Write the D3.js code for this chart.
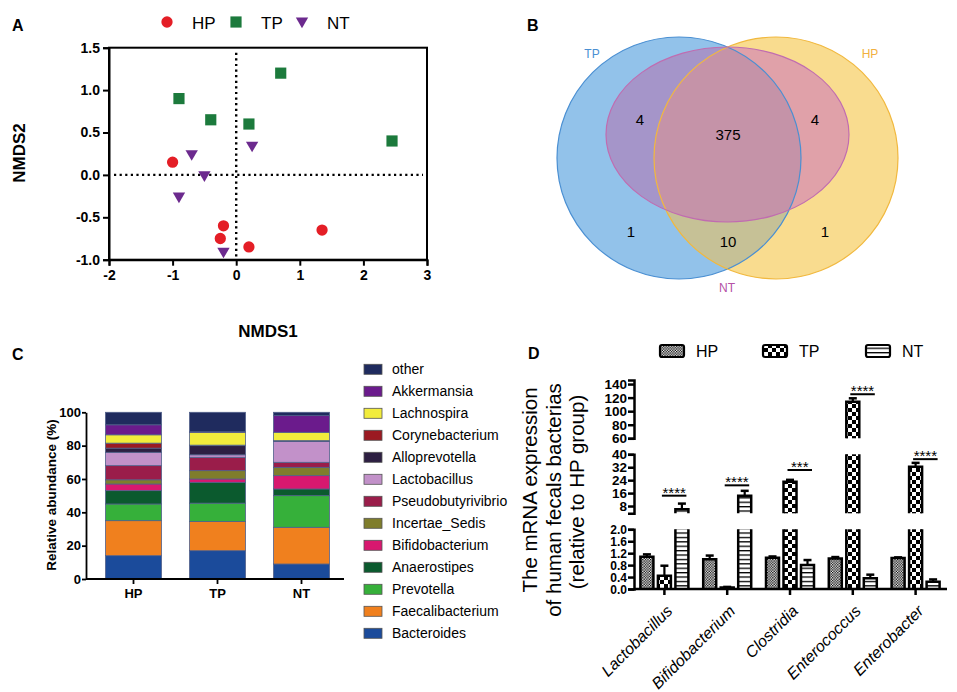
<!DOCTYPE html>
<html>
<head>
<meta charset="utf-8">
<script src="https://cdn.jsdelivr.net/npm/d3@7.9.0/dist/d3.min.js"></script>
<style>
  body { margin: 0; background: #fff; }
  svg { font-family: "Liberation Sans", Arial, sans-serif; }
</style>
</head>
<body>
<svg id="fig" width="957" height="692"></svg>
<script>
// ---------- A: NMDS scores ----------
const nmdsGroups = ['HP', 'TP', 'NT'];
const nmdsHP = [[-1.0, 0.15], [-0.2, -0.6], [-0.25, -0.75], [0.2, -0.85], [1.35, -0.65]];
const nmdsTP = [[-0.9, 0.9], [-0.4, 0.65], [0.7, 1.2], [0.2, 0.6], [2.45, 0.4]];
const nmdsNT = [[-0.7, 0.25], [-0.5, 0.0], [-0.9, -0.25], [0.25, 0.35], [-0.2, -0.9]];
const nmdsXTicks = [-2, -1, 0, 1, 2, 3];
const nmdsYTicks = [-1, -0.5, 0, 0.5, 1, 1.5];

// ---------- B: Venn counts ----------
const vennSets = ['TP', 'HP', 'NT'];
const vennRegions = ['TP∩NT', 'TP∩HP∩NT', 'HP∩NT', 'TP', 'TP∩HP', 'HP'];
const vennCounts = [4, 375, 4, 1, 10, 1];

// ---------- C: relative abundance (%) ----------
const abundGroups = ['HP', 'TP', 'NT'];
const taxa = ['Bacteroides', 'Faecalibacterium', 'Prevotella', 'Anaerostipes', 'Bifidobacterium',
  'Incertae_Sedis', 'Pseudobutyrivibrio', 'Lactobacillus', 'Alloprevotella', 'Corynebacterium',
  'Lachnospira', 'Akkermansia', 'other'];
const abundHP = [14, 21, 10, 8, 4, 2.5, 8.5, 8, 2.5, 3, 5, 6, 7.5];
const abundTP = [17, 17.5, 11, 12.5, 2, 5, 8, 1.5, 5.5, 0.3, 7.7, 0.3, 11.7];
const abundNT = [9, 22, 19, 4, 8, 5, 3, 12.5, 0.3, 0.2, 5, 10, 2];
const taxaColors = ['#1b4b9b', '#f0801e', '#36b03a', '#0b5a2e', '#d8186f', '#7f7d2c',
  '#9a1d4a', '#c291c9', '#2d1f42', '#9b1a22', '#f2ec3c', '#6b1b8c', '#1f2b5e'];
const abundTicks = [0, 20, 40, 60, 80, 100];

// ---------- D: qPCR relative expression ----------
const qpcrTaxa = ['Lactobacillus', 'Bifidobacterium', 'Clostridia', 'Enterococcus', 'Enterobacter'];
const qpcrGroups = ['HP', 'TP', 'NT'];
const qpcrHP = [1.08, 1.0, 1.05, 1.02, 1.04];
const qpcrHPerr = [0.08, 0.12, 0.04, 0.05, 0.02];
const qpcrTP = [0.44, 0.05, 23, 114, 32.3];
const qpcrTPerr = [0.34, 0.02, 1.2, 5, 2.4];
const qpcrNT = [6, 14.4, 0.8, 0.36, 0.24];
const qpcrNTerr = [3.5, 3, 0.17, 0.12, 0.08];
const sigLabels = ['****', '****', '***', '****', '****'];
const sigLevels = [14.4, 20.8, 30.3, 125, 37];
const qpcrTicks = [[0, 0.4, 0.8, 1.2, 1.6, 2.0], [8, 16, 24, 32, 40], [60, 80, 100, 120, 140]];

const svg = d3.select('#fig');
const defs = svg.append('defs');

function panelLabel(t, x, y) {
  svg.append('text').attr('x', x).attr('y', y).attr('font-size', 16)
    .attr('font-weight', 'bold').text(t);
}
function styleAxis(g, size, sw) {
  g.selectAll('path, line').attr('stroke', '#000').attr('stroke-width', sw);
  g.selectAll('text').attr('font-size', size).attr('font-weight', 'bold')
    .attr('fill', '#000').attr('font-family', '"Liberation Sans", Arial, sans-serif');
}

// ================= A =================
panelLabel('A', 12, 31);
const xA = d3.scaleLinear().domain([-2, 3]).range([109, 427]);
const yA = d3.scaleLinear().domain([-1, 1.5]).range([259.7, 47.7]);
const gA = svg.append('g');

gA.append('line').attr('x1', xA(-2) + 5).attr('x2', xA(3) - 4).attr('y1', yA(0)).attr('y2', yA(0))
  .attr('stroke', '#000').attr('stroke-width', 2.4).attr('stroke-dasharray', '2.2,3.4');
gA.append('line').attr('x1', xA(0)).attr('x2', xA(0)).attr('y1', yA(1.5) + 5).attr('y2', yA(-1))
  .attr('stroke', '#000').attr('stroke-width', 2.4).attr('stroke-dasharray', '2.2,3.4');

gA.append('rect').attr('x', xA(-2)).attr('y', yA(1.5))
  .attr('width', xA(3) - xA(-2)).attr('height', yA(-1) - yA(1.5))
  .attr('fill', 'none').attr('stroke', '#000').attr('stroke-width', 2);

const axAx = gA.append('g').attr('transform', `translate(0,${yA(-1)})`)
  .call(d3.axisBottom(xA).tickValues(nmdsXTicks).tickSize(6).tickPadding(4)
    .tickFormat(d => String(d)));
styleAxis(axAx, 14, 2);
const axAy = gA.append('g').attr('transform', `translate(${xA(-2)},0)`)
  .call(d3.axisLeft(yA).tickValues(nmdsYTicks).tickSize(6).tickPadding(3)
    .tickFormat(d => d.toFixed(1)));
styleAxis(axAy, 14, 2);

const nmdsStyle = {
  HP: { type: d3.symbolCircle, size: 100, color: '#e41e26', rot: 0 },
  TP: { type: d3.symbolSquare, size: 125, color: '#1c7a3c', rot: 0 },
  NT: { type: d3.symbolTriangle, size: 66, color: '#6c2a8e', rot: 180 }
};
const nmdsData = { HP: nmdsHP, TP: nmdsTP, NT: nmdsNT };
nmdsGroups.forEach(gname => {
  const s = nmdsStyle[gname];
  gA.selectAll(null).data(nmdsData[gname]).join('path')
    .attr('d', d3.symbol().type(s.type).size(s.size))
    .attr('transform', d => `translate(${xA(d[0])},${yA(d[1])}) rotate(${s.rot})`)
    .attr('fill', s.color);
});

// legend A
const legAx = [167, 236, 302];
nmdsGroups.forEach((gname, i) => {
  const s = nmdsStyle[gname];
  svg.append('path').attr('d', d3.symbol().type(s.type).size(s.size))
    .attr('transform', `translate(${legAx[i]},${i === 2 ? 21 : 22}) rotate(${s.rot})`)
    .attr('fill', s.color);
  svg.append('text').attr('x', legAx[i] + 25).attr('y', 28.5).attr('font-size', 17).text(gname);
});

svg.append('text').attr('transform', `translate(25,153) rotate(-90)`)
  .attr('text-anchor', 'middle').attr('font-size', 17).attr('font-weight', 'bold').text('NMDS2');
svg.append('text').attr('x', (xA(-2) + xA(3)) / 2).attr('y', 337)
  .attr('text-anchor', 'middle').attr('font-size', 17).attr('font-weight', 'bold').text('NMDS1');

// ================= B =================
panelLabel('B', 527, 31);
const vennShapes = {
  TP: { cx: 679, cy: 158, rx: 122, ry: 121 },
  HP: { cx: 776, cy: 158, rx: 122, ry: 121 },
  NT: { cx: 727.5, cy: 134.5, rx: 121.5, ry: 87.5 }
};
const gB = svg.append('g');
vennSets.forEach(k => {
  const s = vennShapes[k];
  defs.append('clipPath').attr('id', 'clip' + k).append('ellipse')
    .attr('cx', s.cx).attr('cy', s.cy).attr('rx', s.rx).attr('ry', s.ry);
});
function vennEllipse(parent, k) {
  const s = vennShapes[k];
  return parent.append('ellipse').attr('cx', s.cx).attr('cy', s.cy).attr('rx', s.rx).attr('ry', s.ry);
}
vennEllipse(gB, 'TP').attr('fill', '#92c2ea');
vennEllipse(gB, 'HP').attr('fill', '#f9dc8f');
vennEllipse(gB.append('g').attr('clip-path', 'url(#clipTP)'), 'HP').attr('fill', '#c6c196');
vennEllipse(gB.append('g').attr('clip-path', 'url(#clipTP)'), 'NT').attr('fill', '#a595c9');
vennEllipse(gB.append('g').attr('clip-path', 'url(#clipHP)'), 'NT').attr('fill', '#e0a1a9');
vennEllipse(gB.append('g').attr('clip-path', 'url(#clipTP)').append('g').attr('clip-path', 'url(#clipHP)'), 'NT')
  .attr('fill', '#c593a8');
vennEllipse(gB, 'TP').attr('fill', 'none').attr('stroke', '#4a8fd2').attr('stroke-width', 1.2);
vennEllipse(gB, 'HP').attr('fill', 'none').attr('stroke', '#f1b83e').attr('stroke-width', 1.2);
vennEllipse(gB, 'NT').attr('fill', 'none').attr('stroke', '#c06cb0').attr('stroke-width', 1.2);

const vennTextPos = [[640, 125], [728, 140], [815, 125], [631, 237], [728, 247], [825, 237]];
vennCounts.forEach((c, i) => {
  gB.append('text').attr('x', vennTextPos[i][0]).attr('y', vennTextPos[i][1])
    .attr('text-anchor', 'middle').attr('font-size', 15).text(c);
});
const vennLabelPos = { TP: [592, 58, '#4a8fd2'], HP: [870, 58, '#f1b040'], NT: [727, 292, '#b552a6'] };
vennSets.forEach(k => {
  const p = vennLabelPos[k];
  gB.append('text').attr('x', p[0]).attr('y', p[1]).attr('text-anchor', 'middle')
    .attr('font-size', 12).attr('fill', p[2]).text(k);
});

// ================= C =================
panelLabel('C', 12, 360);
const abundRows = abundGroups.map((g, gi) => {
  const row = { group: g };
  const src = [abundHP, abundTP, abundNT][gi];
  taxa.forEach((t, ti) => { row[t] = src[ti]; });
  return row;
});
const stackC = d3.stack().keys(taxa)(abundRows);
const xC = d3.scaleBand().domain(abundGroups).range([91.5, 343.5]).paddingInner(1 / 3).paddingOuter(1 / 6);
const yC = d3.scaleLinear().domain([0, 100]).range([579, 412.3]);
const colorC = d3.scaleOrdinal().domain(taxa).range(taxaColors);
const gC = svg.append('g');

gC.selectAll('g.layer').data(stackC).join('g').attr('class', 'layer')
  .attr('fill', d => colorC(d.key))
  .selectAll('rect').data(d => d).join('rect')
  .attr('x', d => xC(d.data.group)).attr('width', xC.bandwidth())
  .attr('y', d => yC(d[1])).attr('height', d => yC(d[0]) - yC(d[1]))
  .attr('stroke', '#51608a').attr('stroke-width', 0.8);

const axCy = gC.append('g').attr('transform', 'translate(86,0)')
  .call(d3.axisLeft(yC).tickValues(abundTicks).tickSize(4).tickPadding(1).tickSizeOuter(0));
styleAxis(axCy, 13, 1.8);
const axCx = gC.append('g').attr('transform', `translate(0,${yC(0)})`)
  .call(d3.axisBottom(xC).tickSize(5).tickPadding(5).tickSizeOuter(0));
axCx.select('.domain').attr('d', `M86,0H344`);
styleAxis(axCx, 13, 1.8);

svg.append('text').attr('transform', 'translate(56,495) rotate(-90)').attr('text-anchor', 'middle')
  .attr('font-size', 13.5).attr('font-weight', 'bold').text('Relative abundance (%)');

const legC = gC.append('g');
taxa.slice().reverse().forEach((t, i) => {
  const cy = 369.3 + i * 22;
  legC.append('rect').attr('x', 364).attr('y', cy - 5).attr('width', 18).attr('height', 10)
    .attr('fill', colorC(t)).attr('stroke', '#555').attr('stroke-width', 0.8);
  legC.append('text').attr('x', 392).attr('y', cy + 5).attr('font-size', 14).text(t);
});

// ================= D =================
panelLabel('D', 528, 359);
const gD = svg.append('g');

// fill patterns
const patHP = defs.append('pattern').attr('id', 'patHP').attr('patternUnits', 'userSpaceOnUse')
  .attr('width', 2.6).attr('height', 2.6);
patHP.append('rect').attr('width', 2.6).attr('height', 2.6).attr('fill', '#fff');
patHP.append('rect').attr('width', 1.3).attr('height', 1.3).attr('fill', '#000');
patHP.append('rect').attr('x', 1.3).attr('y', 1.3).attr('width', 1.3).attr('height', 1.3).attr('fill', '#000');
const patTP = defs.append('pattern').attr('id', 'patTP').attr('patternUnits', 'userSpaceOnUse')
  .attr('width', 8).attr('height', 8);
patTP.append('rect').attr('width', 8).attr('height', 8).attr('fill', '#fff');
patTP.append('rect').attr('width', 4).attr('height', 4).attr('fill', '#000');
patTP.append('rect').attr('x', 4).attr('y', 4).attr('width', 4).attr('height', 4).attr('fill', '#000');
const patNT = defs.append('pattern').attr('id', 'patNT').attr('patternUnits', 'userSpaceOnUse')
  .attr('width', 4).attr('height', 4.4);
patNT.append('rect').attr('width', 4).attr('height', 4.4).attr('fill', '#fff');
patNT.append('rect').attr('y', 0).attr('width', 4).attr('height', 1.3).attr('fill', '#000');
const patFill = { HP: 'url(#patHP)', TP: 'url(#patTP)', NT: 'url(#patNT)' };

const xD = d3.scaleBand().domain(qpcrTaxa).range([633, 947]);
const xSub = d3.scalePoint().domain(qpcrGroups).range([-17.5, 17.5]);
const barW = 13;
const segScales = [
  d3.scaleLinear().domain([0, 2]).range([589, 529.3]),
  d3.scaleLinear().domain([3.5, 40]).range([513.3, 454.3]),
  d3.scaleLinear().domain([60, 146]).range([438.3, 380])
];
function segOf(v) { return v <= 2.5 ? 0 : (v <= 50 ? 1 : 2); }
const axisX = 634;

segScales.forEach((sc, si) => {
  const ax = gD.append('g').attr('transform', `translate(${axisX},0)`)
    .call(d3.axisLeft(sc).tickValues(qpcrTicks[si]).tickSize(6).tickPadding(1).tickSizeOuter(6)
      .tickFormat(si === 0 ? (d => d.toFixed(1)) : (d => String(d))));
  styleAxis(ax, si === 0 ? 12 : 13.5, 2.5);
  ax.selectAll('text').attr('dy', '0.34em');
});

const qpcrVals = { HP: qpcrHP, TP: qpcrTP, NT: qpcrNT };
const qpcrErrs = { HP: qpcrHPerr, TP: qpcrTPerr, NT: qpcrNTerr };
const bars = [];
qpcrTaxa.forEach((t, ti) => qpcrGroups.forEach(g => {
  bars.push({ taxon: t, group: g, v: qpcrVals[g][ti], e: qpcrErrs[g][ti],
    cx: xD(t) + xD.bandwidth() / 2 + xSub(g) });
}));

bars.forEach(b => {
  segScales.forEach((sc, si) => {
    const [d0, d1] = sc.domain();
    if (si > 0 && b.v <= d0) return;
    const lo = si === 0 ? 0 : d0;
    const hi = Math.min(b.v, d1);
    const yb = sc(lo), yt = sc(hi);
    const x0 = b.cx - barW / 2, x1 = b.cx + barW / 2;
    gD.append('rect').attr('x', x0).attr('y', yt).attr('width', barW).attr('height', yb - yt)
      .attr('fill', patFill[b.group]);
    const closed = b.v <= d1;
    const dpath = closed
      ? `M${x0},${yb}V${yt}H${x1}V${yb}`
      : `M${x0},${yb}V${yt}M${x1},${yt}V${yb}`;
    gD.append('path').attr('d', dpath).attr('fill', 'none').attr('stroke', '#000')
      .attr('stroke-width', 2.5);
  });
  // error bar (upper)
  const sc = segScales[segOf(b.v)];
  const yTop = sc(b.v + b.e), yBar = sc(b.v);
  gD.append('line').attr('x1', b.cx).attr('x2', b.cx).attr('y1', yBar).attr('y2', yTop)
    .attr('stroke', '#000').attr('stroke-width', 2.2);
  gD.append('line').attr('x1', b.cx - 4).attr('x2', b.cx + 4).attr('y1', yTop).attr('y2', yTop)
    .attr('stroke', '#000').attr('stroke-width', 2.5);
});

// x axis
const axDx = gD.append('g').attr('transform', `translate(0,${segScales[0](0)})`)
  .call(d3.axisBottom(xD).tickSize(6).tickSizeOuter(0).tickFormat(''));
axDx.select('.domain').attr('d', `M${axisX},0H947`);
styleAxis(axDx, 14, 2.5);

qpcrTaxa.forEach(t => {
  const cx = xD(t) + xD.bandwidth() / 2;
  gD.append('text').attr('transform', `translate(${cx + 9},612) rotate(-45)`)
    .attr('text-anchor', 'end').attr('font-size', 16).attr('font-style', 'italic').text(t);
});

// significance
qpcrTaxa.forEach((t, ti) => {
  const c = xD(t) + xD.bandwidth() / 2;
  const xa = c + xSub('TP') - 2.5, xb = c + xSub('NT') + 4.5;
  const y = segScales[segOf(sigLevels[ti])](sigLevels[ti]);
  gD.append('line').attr('x1', xa).attr('x2', xb).attr('y1', y).attr('y2', y)
    .attr('stroke', '#000').attr('stroke-width', 2);
  gD.append('text').attr('x', (xa + xb) / 2).attr('y', y + 2).attr('text-anchor', 'middle')
    .attr('font-size', 15).text(sigLabels[ti]);
});

// y label
const yLab = [['The mRNA expression', 537, 490], ['of human fecals bacterias', 561, 500], ['(relative to HP group)', 584, 492]];
yLab.forEach(l => {
  gD.append('text').attr('transform', `translate(${l[1]},${l[2]}) rotate(-90)`)
    .attr('text-anchor', 'middle').attr('font-size', 20.5).text(l[0]);
});

// legend D
const legDx = [660, 763, 866];
qpcrGroups.forEach((g, i) => {
  gD.append('rect').attr('x', legDx[i]).attr('y', 345).attr('width', 24).attr('height', 12)
    .attr('rx', 2).attr('fill', patFill[g]).attr('stroke', '#000').attr('stroke-width', 2.2);
  gD.append('text').attr('x', legDx[i] + 36).attr('y', 357).attr('font-size', 16).text(g);
});
</script>
</body>
</html>
